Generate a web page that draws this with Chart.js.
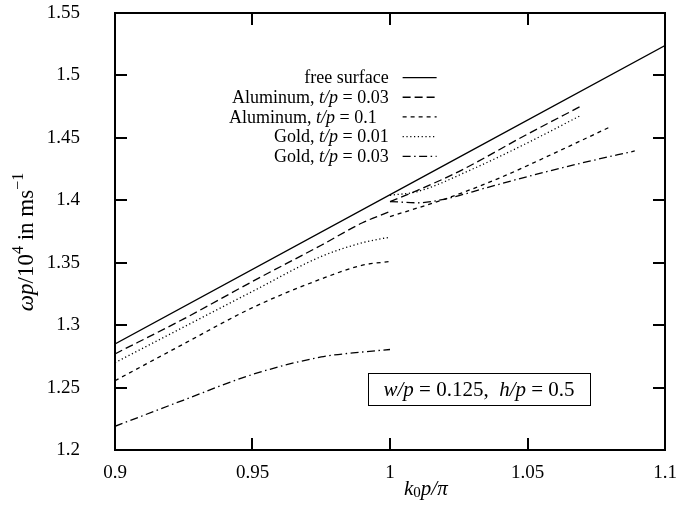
<!DOCTYPE html>
<html>
<head>
<meta charset="utf-8">
<script src="https://cdn.jsdelivr.net/npm/chart.js@4/dist/chart.umd.min.js"></script>
<style>
  body { margin: 0; background: #fff; }
  #wrap { width: 677px; height: 506px; }
</style>
</head>
<body>
<div id="wrap"><canvas id="chart" width="677" height="506"></canvas></div>
<script>
// axis ticks
const xTicks = [0.9, 0.95, 1, 1.05, 1.1];
const yTicks = [1.2, 1.25, 1.3, 1.35, 1.4, 1.45, 1.5, 1.55];

// free surface
const freeX = [0.9, 1.1];
const freeY = [1.285, 1.524];

// left branch (k0p/pi < 1), shared x
const leftX = [0.9, 0.925, 0.95, 0.975, 0.99, 1.0];
const alu003Left = [1.277, 1.305, 1.335, 1.364, 1.382, 1.391];
const alu01Left = [1.2555, 1.285, 1.314, 1.337, 1.348, 1.351];
const gold001Left = [1.270, 1.2985, 1.327, 1.355, 1.366, 1.3705];
const gold003Left = [1.219, 1.240, 1.2605, 1.2745, 1.2785, 1.2805];

// right branch (k0p/pi > 1)
const alu003RightX = [1.0, 1.01, 1.025, 1.05, 1.07];
const alu003Right = [1.399, 1.408, 1.423, 1.453, 1.476];
const alu01RightX = [1.0, 1.02, 1.04, 1.06, 1.08];
const alu01Right = [1.387, 1.401, 1.418, 1.438, 1.4587];
const gold001RightX = [1.0, 1.01, 1.03, 1.05, 1.069];
const gold001Right = [1.404, 1.407, 1.425, 1.446, 1.4675];
const gold003RightX = [1.0, 1.01, 1.02, 1.035, 1.05, 1.07, 1.089];
const gold003Right = [1.399, 1.398, 1.401, 1.410, 1.419, 1.430, 1.4395];

const SERIF = '"Liberation Serif", "Times New Roman", serif';

// legend entries: text parts [text, italic]
const legendItems = [
    { parts: [['free surface', false]], dash: [] },
    { parts: [['Aluminum, ', false], ['t/p', true], [' = 0.03', false]], dash: [8, 4] },
    { parts: [['Aluminum, ', false], ['t/p', true], [' = 0.1', false]], dash: [4, 4], phantom: '0' },
    { parts: [['Gold, ', false], ['t/p', true], [' = 0.01', false]], dash: [1.2, 2.6] },
    { parts: [['Gold, ', false], ['t/p', true], [' = 0.03', false]], dash: [8, 3.5, 1.5, 3.5] }
];

function pts(xs, ys) {
    return xs.map((x, i) => ({ x: x, y: ys[i] }));
}

function line(xs, ys, dash) {
    return {
        data: pts(xs, ys),
        borderColor: '#000',
        borderWidth: 1.3,
        borderDash: dash,
        pointRadius: 0,
        fill: false,
        cubicInterpolationMode: 'monotone'
    };
}

function drawRich(ctx, parts, x, y, size, align) {
    let total = 0;
    parts.forEach(p => {
        ctx.font = (p[1] ? 'italic ' : '') + size + 'px ' + SERIF;
        total += ctx.measureText(p[0]).width;
    });
    let cx = align === 'right' ? x - total : (align === 'center' ? x - total / 2 : x);
    ctx.textBaseline = 'middle';
    ctx.textAlign = 'left';
    parts.forEach(p => {
        ctx.font = (p[1] ? 'italic ' : '') + size + 'px ' + SERIF;
        ctx.fillText(p[0], cx, y);
        cx += ctx.measureText(p[0]).width;
    });
    return total;
}

const decor = {
    id: 'decor',
    afterDraw(chart) {
        const ctx = chart.ctx;
        const a = chart.chartArea;
        const xs = chart.scales.x, ys = chart.scales.y;
        ctx.save();
        ctx.fillStyle = '#000';
        ctx.strokeStyle = '#000';

        // frame
        ctx.lineWidth = 2;
        ctx.strokeRect(a.left, a.top, a.right - a.left, a.bottom - a.top);

        // inward ticks on all sides
        const tl = 12;
        ctx.beginPath();
        yTicks.slice(1, -1).forEach(v => {
            const py = Math.round(ys.getPixelForValue(v));
            ctx.moveTo(a.left, py); ctx.lineTo(a.left + tl, py);
            ctx.moveTo(a.right, py); ctx.lineTo(a.right - tl, py);
        });
        xTicks.slice(1, -1).forEach(v => {
            const px = Math.round(xs.getPixelForValue(v));
            ctx.moveTo(px, a.bottom); ctx.lineTo(px, a.bottom - tl);
            ctx.moveTo(px, a.top); ctx.lineTo(px, a.top + tl);
        });
        ctx.stroke();

        // legend
        const lx = xs.getPixelForValue(0.9995), ly = ys.getPixelForValue(1.4975);
        legendItems.forEach((it, i) => {
            const y = ly + i * 19.7;
            let right = lx;
            if (it.phantom) {
                ctx.font = '18px ' + SERIF;
                right -= ctx.measureText(it.phantom).width + 3;
            }
            drawRich(ctx, it.parts, right, y, 18, 'right');
            ctx.lineWidth = 1.3;
            ctx.setLineDash(it.dash);
            ctx.beginPath();
            ctx.moveTo(lx + 14, y - 1);
            ctx.lineTo(lx + 48, y - 1);
            ctx.stroke();
            ctx.setLineDash([]);
        });

        // parameter box
        const bx0 = 368, bx1 = 590, by0 = 373, by1 = 405;
        ctx.lineWidth = 1;
        ctx.strokeRect(bx0 + 0.5, by0 + 0.5, bx1 - bx0, by1 - by0);
        drawRich(ctx, [['w/p', true], [' = 0.125,  ', false], ['h/p', true], [' = 0.5', false]],
            (bx0 + bx1) / 2, (by0 + by1) / 2 + 1, 21, 'center');

        // x title  k0p/pi
        ctx.font = 'italic 21px ' + SERIF;
        let tx = 404, ty = 489;
        ctx.textBaseline = 'middle';
        ctx.fillText('k', tx, ty);
        tx += ctx.measureText('k').width;
        ctx.font = '15px ' + SERIF;
        ctx.fillText('0', tx, ty + 4);
        tx += ctx.measureText('0').width;
        ctx.font = 'italic 21px ' + SERIF;
        ctx.fillText('p/π', tx, ty);

        // y title  wp/10^4 in ms^-1
        ctx.translate(27, 242);
        ctx.rotate(-Math.PI / 2);
        const segs = [
            ['ωp', 'italic 23px', 0], ['/10', '23px', 0], ['4', '16px', -8],
            [' in ms', '23px', 0], ['−1', '16px', -8]
        ];
        let w = 0;
        segs.forEach(s => { ctx.font = s[1] + ' ' + SERIF; w += ctx.measureText(s[0]).width; });
        let sx = -w / 2;
        segs.forEach(s => {
            ctx.font = s[1] + ' ' + SERIF;
            ctx.fillText(s[0], sx, s[2]);
            sx += ctx.measureText(s[0]).width;
        });
        ctx.restore();
    }
};

const fmt = v => String(Number(v.toFixed(2)));
const hiddenGrid = len => ({
    display: true, drawOnChartArea: false, drawTicks: true,
    tickLength: len, color: 'rgba(0,0,0,0)'
});

new Chart(document.getElementById('chart').getContext('2d'), {
    type: 'line',
    data: {
        datasets: [
            line(freeX, freeY, []),
            line(leftX, alu003Left, [8, 4]),
            line(alu003RightX, alu003Right, [8, 4]),
            line(leftX, alu01Left, [4, 4]),
            line(alu01RightX, alu01Right, [4, 4]),
            line(leftX, gold001Left, [1.2, 2.6]),
            line(gold001RightX, gold001Right, [1.2, 2.6]),
            line(leftX, gold003Left, [8, 3.5, 1.5, 3.5]),
            line(gold003RightX, gold003Right, [8, 3.5, 1.5, 3.5])
        ]
    },
    options: {
        responsive: false,
        animation: false,
        layout: { padding: { left: 0, right: 12, top: 13, bottom: 0 } },
        plugins: { legend: { display: false }, tooltip: { enabled: false } },
        scales: {
            x: {
                type: 'linear',
                min: 0.9,
                max: 1.1,
                afterFit: s => { s.height = 56; },
                afterBuildTicks: s => { s.ticks = xTicks.map(v => ({ value: v })); },
                grid: hiddenGrid(12),
                border: { display: false },
                ticks: { color: '#000', padding: 0, font: { family: SERIF, size: 19 }, callback: fmt, maxRotation: 0 }
            },
            y: {
                min: 1.2,
                max: 1.55,
                afterFit: s => { s.width = 115; },
                afterBuildTicks: s => { s.ticks = yTicks.map(v => ({ value: v })); },
                grid: hiddenGrid(35),
                border: { display: false },
                ticks: { color: '#000', padding: 0, font: { family: SERIF, size: 19 }, callback: fmt }
            }
        }
    },
    plugins: [decor]
});
</script>
</body>
</html>
